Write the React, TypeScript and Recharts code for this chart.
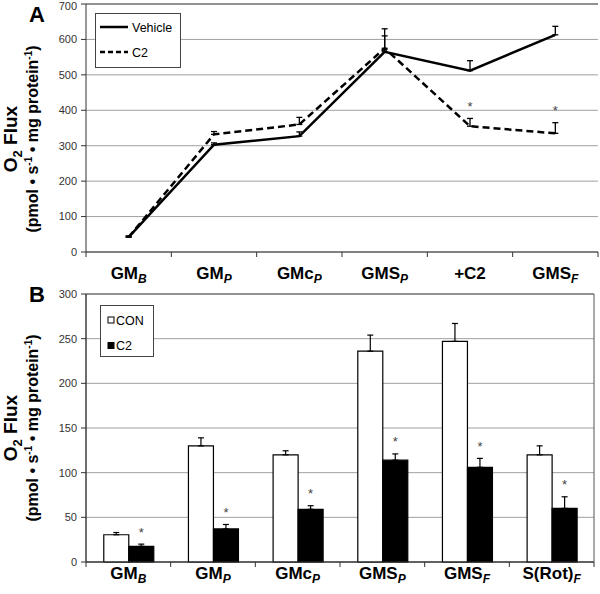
import React from 'react';
import {
  LineChart, Line, BarChart, Bar, XAxis, YAxis, CartesianGrid,
  ErrorBar, LabelList, Legend, ReferenceArea, ReferenceLine,
} from 'recharts';

const FONT = '"Liberation Sans", Arial, sans-serif';

// panel A
const catsA = ['GMB', 'GMP', 'GMcP', 'GMSP', '+C2', 'GMSF'];
const tickBaseA = ['GM', 'GM', 'GMc', 'GMS', '+C2', 'GMS'];
const tickSubA = ['B', 'P', 'P', 'P', '', 'F'];
const vehicle = [42, 303, 327, 565, 512, 613];
const vehicleErr = [3, 5, 12, 45, 28, 24];
const c2Line = [42, 332, 360, 575, 355, 335];
const c2LineErr = [3, 8, 20, 55, 22, 30];
const c2LineSig = [false, false, false, false, true, true];
const ticksA = [0, 100, 200, 300, 400, 500, 600, 700];

// panel B
const catsB = ['GMB', 'GMP', 'GMcP', 'GMSP', 'GMSF', 'S(Rot)F'];
const tickBaseB = ['GM', 'GM', 'GMc', 'GMS', 'GMS', 'S(Rot)'];
const tickSubB = ['B', 'P', 'P', 'P', 'F', 'F'];
const con = [30.5, 130, 120, 236, 247, 120];
const conErr = [2.5, 9, 4.5, 18, 20, 10];
const c2Bar = [17.5, 37, 59, 114, 106, 60];
const c2BarErr = [2.5, 5, 4, 7, 10, 13];
const c2BarSig = [true, true, true, true, true, true];
const ticksB = [0, 50, 100, 150, 200, 250, 300];

const dataA = catsA.map((cat, i) => ({
  cat,
  vehicle: vehicle[i],
  vehicleErr: [0, vehicleErr[i]],
  c2: c2Line[i],
  c2Err: [0, c2LineErr[i]],
  c2Star: c2LineSig[i] ? c2LineErr[i] : null,
}));

const dataB = catsB.map((cat, i) => ({
  cat,
  con: con[i],
  conErr: [0, conErr[i]],
  c2: c2Bar[i],
  c2Err: [0, c2BarErr[i]],
  c2Star: c2BarSig[i] ? c2BarErr[i] : null,
}));

const XTick = (props: any) => {
  const { x, y, payload, cats, base, sub, bw, dy } = props;
  const i = cats.indexOf(payload.value);
  return (
    <g>
      <line x1={x + bw / 2} x2={x + bw / 2} y1={y} y2={y + 5} stroke="#333" />
      {i === 0 && <line x1={x - bw / 2} x2={x - bw / 2} y1={y} y2={y + 5} stroke="#333" />}
      <text x={x} y={y + dy} textAnchor="middle" fontFamily={FONT} fontWeight="bold" fontSize={17} fill="#000">
        {base[i]}
        {sub[i] && <tspan fontSize={12} fontStyle="italic" dy={4}>{sub[i]}</tspan>}
      </text>
    </g>
  );
};

const YLabel = ({ cy, letter }: { cy: number; letter: string }) => (
  <g fontFamily={FONT} fontWeight="bold" fill="#000">
    <text x={37} y={22} textAnchor="middle" fontSize={22}>{letter}</text>
    <text transform={`translate(16.5, ${cy}) rotate(-90)`} textAnchor="middle" fontSize={19}>
      O<tspan fontSize={13} dy={5}>2</tspan><tspan dy={-5}> Flux</tspan>
    </text>
    <text transform={`translate(38, ${cy}) rotate(-90)`} textAnchor="middle" fontSize={16}>
      (pmol • s<tspan fontSize={10} dy={-6}>-1</tspan>
      <tspan dy={6}> • mg protein</tspan>
      <tspan fontSize={10} dy={-6}>-1</tspan>
      <tspan dy={6}>)</tspan>
    </text>
  </g>
);

const makeStar = (ppu: number) => (props: any) => {
  const { value } = props;
  if (value == null) return null;
  const vb = props.viewBox ?? props;
  const x = vb.x + (vb.width ?? 0) / 2;
  const y = vb.y - value * ppu - 7.5;
  return (
    <text x={x} y={y} textAnchor="middle" fontFamily={FONT} fontSize={13} fill="#444">*</text>
  );
};

const LegendA = () => (
  <svg width={86} height={55} style={{ display: 'block' }}>
    <rect x={0.5} y={0.5} width={85} height={54} fill="#fff" stroke="#444" />
    <line x1={5} x2={33} y1={14} y2={14} stroke="#000" strokeWidth={2.5} />
    <text x={37} y={18.5} fontSize={12.5} fontFamily={FONT}>Vehicle</text>
    <line x1={5} x2={33} y1={39} y2={39} stroke="#000" strokeWidth={2.5} strokeDasharray="5 3" />
    <text x={37} y={43.5} fontSize={12.5} fontFamily={FONT}>C2</text>
  </svg>
);

const LegendB = () => (
  <svg width={54} height={52} style={{ display: 'block' }}>
    <rect x={0.5} y={0.5} width={53} height={51} fill="#fff" stroke="#444" />
    <rect x={8} y={12} width={6} height={6} fill="#fff" stroke="#000" />
    <text x={16} y={19.5} fontSize={12.5} fontFamily={FONT}>CON</text>
    <rect x={8} y={37.5} width={6} height={6} fill="#000" stroke="#000" />
    <text x={16} y={45} fontSize={12.5} fontFamily={FONT}>C2</text>
  </svg>
);

const yTick = { fill: '#333', fontSize: 11, fontFamily: FONT };

const App: React.FC = () => {
  const bwA = 512 / 6;
  const bwB = 508 / 6;
  return (
    <div style={{ position: 'absolute', left: 0, top: 0, width: 600, height: 594, background: '#fff' }}>
      <div style={{ position: 'absolute', left: 0, top: 0 }}>
        <LineChart width={600} height={290} data={dataA} margin={{ top: 4, right: 2, bottom: 8, left: 0 }}>
          <CartesianGrid vertical={false} stroke="#a0a0a0" />
          <ReferenceLine y={700} stroke="#555" />
          <XAxis
            dataKey="cat"
            height={30}
            interval={0}
            tickSize={0}
            tickMargin={0}
            padding={{ left: bwA / 2, right: bwA / 2 }}
            axisLine={{ stroke: '#333' }}
            tick={<XTick cats={catsA} base={tickBaseA} sub={tickSubA} bw={bwA} dy={27} />}
          />
          <YAxis
            domain={[0, 700]}
            ticks={ticksA}
            width={86}
            tick={yTick}
            tickSize={5}
            tickMargin={4}
            axisLine={{ stroke: '#333' }}
            tickLine={{ stroke: '#333' }}
            label={<YLabel cy={139} letter="A" />}
          />
          <YAxis
            yAxisId="r"
            orientation="right"
            domain={[0, 700]}
            width={0}
            tick={false}
            tickLine={false}
            axisLine={{ stroke: '#555' }}
          />
          <Legend
            layout="vertical"
            align="center"
            verticalAlign="middle"
            content={<LegendA />}
            wrapperStyle={{ left: 95, top: 13, width: 86, height: 55 }}
          />
          <Line type="linear" dataKey="vehicle" stroke="#000" strokeWidth={2.5} dot={false} isAnimationActive={false}>
            <ErrorBar dataKey="vehicleErr" direction="y" width={3} stroke="#000" strokeWidth={1.3} />
          </Line>
          <Line type="linear" dataKey="c2" stroke="#000" strokeWidth={2.5} strokeDasharray="7 4" dot={false} isAnimationActive={false}>
            <ErrorBar dataKey="c2Err" direction="y" width={3} stroke="#000" strokeWidth={1.3} />
            <LabelList dataKey="c2Star" content={makeStar(248 / 700)} />
          </Line>
        </LineChart>
      </div>
      <div style={{ position: 'absolute', left: 0, top: 280 }}>
        <BarChart width={600} height={314} data={dataB} margin={{ top: 14, right: 6, bottom: 2, left: 0 }} barCategoryGap="21%" barGap={0}>
          <CartesianGrid vertical={false} stroke="#a0a0a0" />
          <ReferenceArea y1={0} y2={300} fill="none" stroke="#555" />
          <XAxis
            dataKey="cat"
            height={30}
            interval={0}
            tickSize={0}
            tickMargin={0}
            axisLine={{ stroke: '#333' }}
            tick={<XTick cats={catsB} base={tickBaseB} sub={tickSubB} bw={bwB} dy={16.5} />}
          />
          <YAxis
            domain={[0, 300]}
            ticks={ticksB}
            width={86}
            tick={yTick}
            tickSize={5}
            tickMargin={4}
            axisLine={{ stroke: '#333' }}
            tickLine={{ stroke: '#333' }}
            label={<YLabel cy={148} letter="B" />}
          />
          <Legend
            layout="vertical"
            align="center"
            verticalAlign="middle"
            content={<LegendB />}
            wrapperStyle={{ left: 100, top: 25, width: 54, height: 52 }}
          />
          <Bar dataKey="con" fill="#fff" stroke="#000" strokeWidth={1.2} isAnimationActive={false}>
            <ErrorBar dataKey="conErr" direction="y" width={3} stroke="#000" strokeWidth={1.2} />
          </Bar>
          <Bar dataKey="c2" fill="#000" stroke="#000" strokeWidth={1.2} isAnimationActive={false}>
            <ErrorBar dataKey="c2Err" direction="y" width={3} stroke="#000" strokeWidth={1.2} />
            <LabelList dataKey="c2Star" content={makeStar(268 / 300)} />
          </Bar>
        </BarChart>
      </div>
    </div>
  );
};

export default App;
